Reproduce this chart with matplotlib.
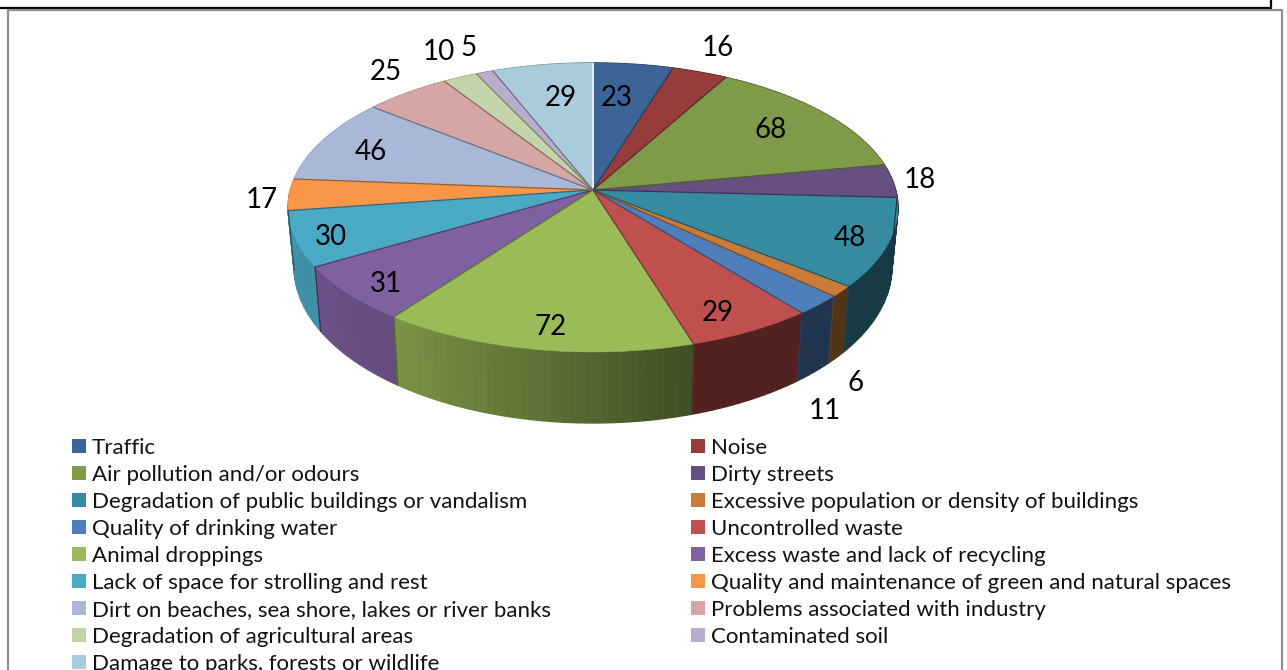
import numpy as np
import matplotlib
matplotlib.use("Agg")
import matplotlib.pyplot as plt
from matplotlib.patches import Rectangle

categories = ["Traffic", "Noise", "Air pollution and/or odours", "Dirty streets",
              "Degradation of public buildings or vandalism",
              "Excessive population or density of buildings",
              "Quality of drinking water", "Uncontrolled waste", "Animal droppings",
              "Excess waste and lack of recycling", "Lack of space for strolling and rest",
              "Quality and maintenance of green and natural spaces",
              "Dirt on beaches, sea shore, lakes or river banks",
              "Problems associated with industry", "Degradation of agricultural areas",
              "Contaminated soil", "Damage to parks, forests or wildlife"]
values = [23, 16, 68, 18, 48, 6, 11, 29, 72, 31, 30, 17, 46, 25, 10, 5, 29]
colors = ["#3c6497", "#963c3b", "#7f9a48", "#664f81", "#378ba1", "#c97b37", "#4f7fba",
          "#c0504d", "#9bbb59", "#7f60a0", "#4aa9c4", "#f79646", "#a9b8d8", "#d6a6a5",
          "#c3d5a8", "#b7aecb", "#a9ccdc"]
# label placement relative to the slice's rim point (layout only)
label_offsets = [(-16, 31), (18, -27), (-52, 15), (27, -4), (-39, -8), (14, 89), (6, 103),
                 (-34, -21), (15, -25), (38, -13), (35, -5), (-27, 2), (47, 9), (-21, -24),
                 (-21, -28), (-16, -27), (18, 30)]

plt.rcParams["font.family"] = ["Lato", "DejaVu Sans"]
fig = plt.figure(figsize=(12.87, 6.70), dpi=100)
ax = fig.add_axes([0, 0, 1, 1])
ax.set_xlim(0, 1287)
ax.set_ylim(670, 0)
ax.axis("off")

CX, CY, B, A, K = 593, 190, 302.7, 142.4, 0.121


def rim(theta):
    s, c = np.sin(theta), np.cos(theta)
    den = 1 + K * c
    return CX + B * s / den, CY - A * c / den


def base(x, y):
    return CX + (x - CX) * 0.98, y + 58 + 0.08 * (y - CY)


def shade(hexcol, f):
    return tuple(np.array(matplotlib.colors.to_rgb(hexcol)) * f)


def side_factor(x):
    return np.interp(x, [300, 400, 690, 900], [0.86, 0.78, 0.42, 0.42])


edges = np.radians(np.concatenate([[0], np.cumsum(values)]) * 360.0 / np.sum(values))

# outer wall, split in narrow strips for the shading gradient; far strips first
strips = []
for i, col in enumerate(colors):
    t0, t1 = edges[i], edges[i + 1]
    n = max(2, int(np.degrees(t1 - t0) / 1.2))
    ts = np.linspace(t0, t1, n + 1)
    for a, b in zip(ts[:-1], ts[1:]):
        strips.append((rim(a)[1] + rim(b)[1], a, b, col))
for _, a, b, col in sorted(strips, key=lambda r: r[0]):
    xa, ya = rim(a)
    xb, yb = rim(b)
    xc, yc = base(xb, yb)
    xd, yd = base(xa, ya)
    f = shade(col, side_factor((xa + xb) / 2))
    ax.fill([xa, xb, xc, xd], [ya, yb, yc, yd], color=f, lw=1.0, zorder=2)

# top faces
for i, col in enumerate(colors):
    ts = np.linspace(edges[i], edges[i + 1], 60)
    xs, ys = rim(ts)
    ax.fill(np.r_[CX, xs], np.r_[CY, ys], color=col, lw=0.3, zorder=3)

# slice borders
for i, col in enumerate(colors):
    x, y = rim(edges[i])
    line = "#e8eef2" if i == 0 else shade(colors[i - 1], 0.62)
    ax.plot([CX, x], [CY, y], color=line, lw=0.9 if i else 1.4, zorder=4,
            solid_capstyle="butt")
    if np.pi * 0.5 < edges[i] < np.pi * 1.5:
        xb, yb = base(x, y)
        ax.plot([x, xb], [y, yb], color=shade(colors[i - 1], 0.5), lw=0.9, zorder=4)

# data labels
for i, v in enumerate(values):
    x, y = rim((edges[i] + edges[i + 1]) / 2)
    dx, dy = label_offsets[i]
    ax.text(x + dx, y + dy + 3, str(v), fontsize=20, ha="center", va="center",
            color="black", zorder=6)

# page frame
ax.plot([0, 1271, 1271], [8, 8, 0], color="black", lw=1.6, zorder=1, solid_joinstyle="miter")
ax.plot([7.5, 7.5, 1282, 1282], [670, 9.5, 9.5, 670], color="#8e8e8e", lw=1.6, zorder=1,
        solid_joinstyle="miter")

# legend: reading order runs across two columns
order = list(range(0, len(values), 2)) + list(range(1, len(values), 2))
handles = [Rectangle((0, 0), 1, 1, color=colors[i], lw=0) for i in order]
labels = [categories[i] for i in order]
leg = ax.legend(handles, labels, ncol=2, loc="upper left",
                bbox_to_anchor=(72 / 1287, 1 - 438 / 670), bbox_transform=ax.transAxes,
                frameon=False, fontsize=16, borderpad=0, borderaxespad=0,
                handlelength=0.625, handleheight=0.625, handletextpad=0.27,
                labelspacing=0.315, columnspacing=6.3)
for t in leg.get_texts():
    t.set_color("#111111")

fig.savefig("out.png", dpi=100)
